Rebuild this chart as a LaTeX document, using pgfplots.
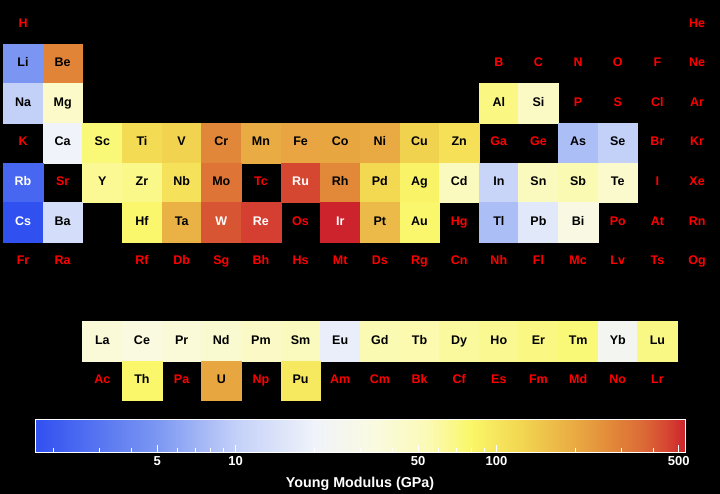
\documentclass[border=0pt]{standalone}
\usepackage{pgfplots}
\usepackage{pgfplotstable}
\pgfplotsset{compat=1.18}
\usepackage{fontspec}
\setmainfont{Liberation Sans}
\usetikzlibrary{calc}

\definecolor{missred}{RGB}{255,0,0}

% elements with a Young modulus (GPa); column, row, value, symbol, white text (1) or black (0)
\pgfplotstableread{
x y E lab tw
1 2 4.9 Li 0
2 2 287 Be 0
1 3 10 Na 0
2 3 45 Mg 0
13 3 70 Al 0
14 3 47 Si 0
2 4 20 Ca 0
3 4 74 Sc 0
4 4 116 Ti 0
5 4 128 V 0
6 4 279 Cr 0
7 4 198 Mn 0
8 4 211 Fe 0
9 4 209 Co 0
10 4 200 Ni 0
11 4 130 Cu 0
12 4 108 Zn 0
15 4 8 As 0
16 4 10 Se 0
1 5 2.4 Rb 1
3 5 64 Y 0
4 5 68 Zr 0
5 5 105 Nb 0
6 5 329 Mo 0
8 5 447 Ru 1
9 5 275 Rh 0
10 5 121 Pd 0
11 5 83 Ag 0
12 5 50 Cd 0
13 5 11 In 0
14 5 50 Sn 0
15 5 55 Sb 0
16 5 43 Te 0
1 6 1.7 Cs 1
2 6 13 Ba 0
4 6 78 Hf 0
5 6 186 Ta 0
6 6 411 W 1
7 6 463 Re 1
9 6 528 Ir 1
10 6 168 Pt 0
11 6 78 Au 0
13 6 8 Tl 0
14 6 16 Pb 0
15 6 32 Bi 0
3 9 37 La 0
4 9 34 Ce 0
5 9 37 Pr 0
6 9 41 Nd 0
7 9 46 Pm 0
8 9 50 Sm 0
9 9 18 Eu 0
10 9 55 Gd 0
11 9 56 Tb 0
12 9 61 Dy 0
13 9 65 Ho 0
14 9 70 Er 0
15 9 74 Tm 0
16 9 24 Yb 0
17 9 69 Lu 0
4 10 79 Th 0
6 10 208 U 0
8 10 96 Pu 0
}\cells

% elements without a value
\pgfplotstableread{
x y lab
1 1 H
18 1 He
13 2 B
14 2 C
15 2 N
16 2 O
17 2 F
18 2 Ne
15 3 P
16 3 S
17 3 Cl
18 3 Ar
1 4 K
13 4 Ga
14 4 Ge
17 4 Br
18 4 Kr
2 5 Sr
7 5 Tc
17 5 I
18 5 Xe
8 6 Os
12 6 Hg
16 6 Po
17 6 At
18 6 Rn
1 7 Fr
2 7 Ra
4 7 Rf
5 7 Db
6 7 Sg
7 7 Bh
8 7 Hs
9 7 Mt
10 7 Ds
11 7 Rg
12 7 Cn
13 7 Nh
14 7 Fl
15 7 Mc
16 7 Lv
17 7 Ts
18 7 Og
3 10 Ac
5 10 Pa
7 10 Np
9 10 Am
10 10 Cm
11 10 Bk
12 10 Cf
13 10 Es
14 10 Fm
15 10 Md
16 10 No
17 10 Lr
}\missing

\pgfplotsset{
	symbol/.style={
		only marks, mark=text, text mark={},
		point meta=explicit symbolic,
		nodes near coords,
		every node near coord/.append style={anchor=center, text=#1,
			text height=9pt, text depth=3pt,
			font=\bfseries\fontsize{12.5}{14}\selectfont},
	},
}

\begin{document}
\begin{tikzpicture}
\fill[black] (0,0) rectangle (720pt,494pt);
\begin{axis}[
	at={(3.2pt,93.3pt)}, anchor=south west,
	scale only axis, width=713.7pt, height=396.5pt,
	xmin=0.5, xmax=18.5, ymin=0.5, ymax=10.5, y dir=reverse,
	hide axis, clip=false,
	colormap={young}{
		rgb255(0pt)=(48,80,240);
		rgb255(185pt)=(122,150,242);
		rgb255(309pt)=(195,208,248);
		rgb255(430pt)=(240,243,250);
		rgb255(520pt)=(250,250,225);
		rgb255(600pt)=(251,250,185);
		rgb255(670pt)=(250,247,105);
		rgb255(750pt)=(242,213,80);
		rgb255(840pt)=(232,165,65);
		rgb255(900pt)=(224,128,55);
		rgb255(930pt)=(220,110,55);
		rgb255(970pt)=(214,72,50);
		rgb255(1000pt)=(205,35,45)
	},
	point meta min=0.23045, point meta max=2.72263,
	colorbar horizontal,
	colorbar/width=33pt,
	colorbar style={
		at={($(parent axis.south west)+(31.8pt,-42.8pt)$)}, anchor=south west,
		width=650pt,
		xtick={0.69897,1,1.69897,2,2.69897},
		xticklabels={5,10,50,100,500},
		minor xtick={0.30103,0.47712,0.60206,0.77815,0.84510,0.90309,0.95424,
			1.30103,1.47712,1.60206,1.77815,1.84510,1.90309,1.95424,
			2.30103,2.47712,2.60206},
		xtick pos=bottom, ytick=\empty,
		tick align=inside,
		major tick length=7pt, minor tick length=4pt,
		axis line style={white, line width=1pt},
		tick style={white, line width=0.9pt},
		xticklabel style={text=white, yshift=-1pt,
			font=\bfseries\fontsize{13}{15}\selectfont},
		xlabel={Young Modulus (GPa)},
		xlabel style={text=white, yshift=-5pt,
			font=\bfseries\fontsize{14.3}{16}\selectfont},
	},
]
% coloured cells
\addplot[
	scatter, only marks, mark=square*, mark size=19.825pt,
	scatter/use mapped color={draw=mapped color, fill=mapped color},
	point meta={log10(\thisrow{E})},
] table {\cells};

% symbols on the cells: black on light cells, white on dark ones
\addplot[symbol=black, restrict expr to domain={\thisrow{tw}}{0:0.5}]
	table[meta=lab] {\cells};
\addplot[symbol=white, restrict expr to domain={\thisrow{tw}}{0.5:1}]
	table[meta=lab] {\cells};

% elements without a value
\addplot[symbol=missred] table[meta=lab] {\missing};
\end{axis}
\pgfresetboundingbox
\useasboundingbox (0,0) rectangle (720pt,494pt);
\end{tikzpicture}
\end{document}
